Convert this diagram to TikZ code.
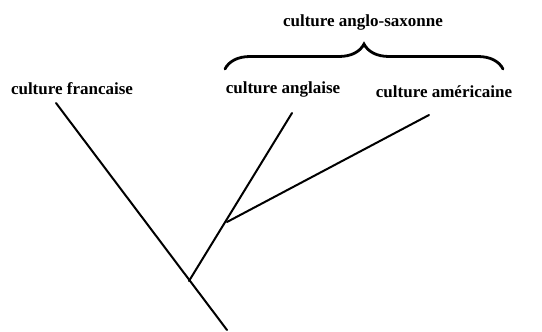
\documentclass[tikz,border=0pt]{standalone}
\usepackage{fontspec}
\setmainfont{Liberation Serif}
\usetikzlibrary{decorations.pathreplacing}

\begin{document}
\begin{tikzpicture}[x=1pt, y=-1pt, line width=2pt, line cap=round]
  \tikzset{culture/.style={font=\fontsize{17}{20}\selectfont\bfseries, inner sep=0pt}}
  \useasboundingbox (0,0) rectangle (542,332);

  % Labels
  \node[culture] (fr) at (72,89) {culture francaise};
  \node[culture] (gb) at (283,89) {culture anglaise};
  \node[culture] (us) at (444,92) {culture américaine};
  \node[culture] (as) at (363,22) {culture anglo-saxonne};

  % Branch points of the tree
  \coordinate (root) at (227,330);
  \coordinate (forkA) at (189,281);
  \coordinate (forkB) at (227,222);
  \coordinate (tipF) at (56,103);
  \coordinate (tipA) at (292,113);
  \coordinate (tipU) at (429,115);

  % Tree
  \draw (tipF) -- (root);
  \draw (forkA) -- (tipA);
  \draw (forkB) -- (tipU);

  % Brace over the two anglo-saxon cultures
  \coordinate (braceL) at (225,69);
  \coordinate (braceR) at (503,69);
  \draw[line width=2.8pt, decorate, decoration={brace, amplitude=25pt}] (braceL) -- (braceR);
\end{tikzpicture}
\end{document}
